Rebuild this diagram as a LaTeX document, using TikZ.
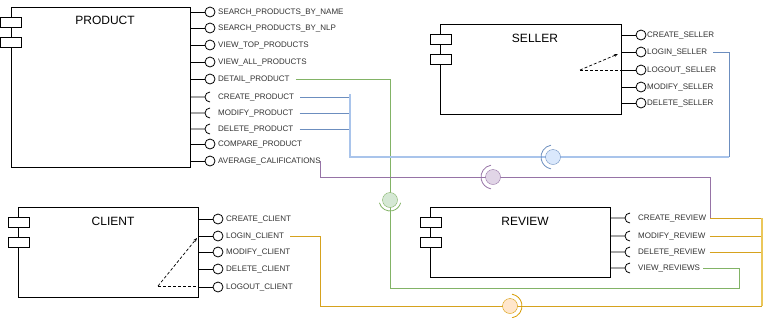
\documentclass[tikz,border=0pt]{standalone}
\usepackage{fontspec}
\setmainfont{Liberation Sans}
\usetikzlibrary{arrows.meta}

\definecolor{txtgray}{HTML}{333333}
\definecolor{glink}{HTML}{82B366}
\definecolor{gfill}{HTML}{D5E8D4}
\definecolor{blink}{HTML}{6C8EBF}
\definecolor{btrunk}{HTML}{A9C4EB}
\definecolor{bfill}{HTML}{DAE8FC}
\definecolor{plink}{HTML}{9673A6}
\definecolor{pfill}{HTML}{E1D5E7}
\definecolor{ylink}{HTML}{D6A21E}
\definecolor{ytrunk}{HTML}{EBC75A}
\definecolor{yfill}{HTML}{FFE6CC}
\definecolor{ydraw}{HTML}{D79B00}

\begin{document}
\begin{tikzpicture}[x=1pt,y=-1pt,
    comp/.style={draw,line width=0.8pt,anchor=north west,inner sep=0pt},
    tab/.style={draw,fill=white,line width=0.8pt,anchor=north west,inner sep=0pt,
        minimum width=21pt,minimum height=10pt},
    title/.style={font=\fontsize{12}{14}\selectfont},
    iface/.style={font=\fontsize{8}{9}\selectfont,text=txtgray,anchor=west,
        inner sep=0pt,text height=5.7pt,text depth=0pt},
    lolli/.style={circle,draw,line width=0.8pt,fill=white,minimum size=10pt,inner sep=0pt},
    stub/.style={line width=0.8pt},
    ball/.style={circle,draw,minimum size=15pt,inner sep=0pt},
    dashlink/.style={dash pattern=on 3pt off 2pt,line width=0.7pt}]
    \fill[white] (0,0) rectangle (766,317);
    \useasboundingbox (0,0) rectangle (766,317);

    % components
    \node[comp,minimum width=179pt,minimum height=160pt] (product) at (11,7) {};
    \node[tab] (producttabA) at (0,17) {};
    \node[tab] (producttabB) at (0,37) {};
    \node[title] (producttitle) at (105,20) {PRODUCT};

    \node[comp,minimum width=181pt,minimum height=90pt] (seller) at (440,24) {};
    \node[tab] (sellertabA) at (430,34) {};
    \node[tab] (sellertabB) at (430,54) {};
    \node[title] (sellertitle) at (535,38) {SELLER};

    \node[comp,minimum width=180pt,minimum height=90pt] (client) at (18,207) {};
    \node[tab] (clienttabA) at (8,217) {};
    \node[tab] (clienttabB) at (8,237) {};
    \node[title] (clienttitle) at (113,221) {CLIENT};

    \node[comp,minimum width=180pt,minimum height=70pt] (review) at (430,207) {};
    \node[tab] (reviewtabA) at (420,217) {};
    \node[tab] (reviewtabB) at (420,237) {};
    \node[title] (reviewtitle) at (525,221) {REVIEW};

    % provided interfaces
    \foreach \i/\y/\txt in {1/12/SEARCH\_PRODUCTS\_BY\_NAME, 2/28/SEARCH\_PRODUCTS\_BY\_NLP,
        3/45/VIEW\_TOP\_PRODUCTS, 4/62/VIEW\_ALL\_PRODUCTS, 5/79/DETAIL\_PRODUCT,
        9/144/COMPARE\_PRODUCT, 10/161/AVERAGE\_CALIFICATIONS}{
        \node[lolli] (pb\i) at (210,\y) {};
        \draw[stub] (pb\i.west -| product.east) -- (pb\i.west);
        \node[iface] (p\i) at (218,\y) {\txt};
    }
    \foreach \i/\y/\txt in {1/35/CREATE\_SELLER, 2/52/LOGIN\_SELLER, 3/70/LOGOUT\_SELLER,
        4/87/MODIFY\_SELLER, 5/103/DELETE\_SELLER}{
        \node[lolli] (sb\i) at (641,\y) {};
        \draw[stub] (sb\i.west -| seller.east) -- (sb\i.west);
        \node[iface] (s\i) at (647,\y) {\txt};
    }
    \foreach \i/\y/\txt in {1/219/CREATE\_CLIENT, 2/236/LOGIN\_CLIENT, 3/252/MODIFY\_CLIENT,
        4/269/DELETE\_CLIENT, 5/287/LOGOUT\_CLIENT}{
        \node[lolli] (cb\i) at (218,\y) {};
        \draw[stub] (cb\i.west -| client.east) -- (cb\i.west);
        \node[iface] (c\i) at (226,\y) {\txt};
    }

    % required interfaces
    \foreach \i/\y/\txt in {6/97/CREATE\_PRODUCT, 7/113/MODIFY\_PRODUCT, 8/129/DELETE\_PRODUCT}{
        \coordinate (ps\i) at (205,\y);
        \draw[stub] (ps\i -| product.east) -- (ps\i)
            arc[start angle=180,end angle=90,radius=5pt]
            (ps\i) arc[start angle=180,end angle=270,radius=5pt];
        \node[iface] (p\i) at (218,\y) {\txt};
    }
    \foreach \i/\y/\txt in {1/218/CREATE\_REVIEW, 2/236/MODIFY\_REVIEW, 3/252/DELETE\_REVIEW,
        4/268/VIEW\_REVIEWS}{
        \coordinate (rs\i) at (625,\y);
        \draw[stub] (rs\i -| review.east) -- (rs\i)
            arc[start angle=180,end angle=90,radius=5pt]
            (rs\i) arc[start angle=180,end angle=270,radius=5pt];
        \node[iface] (r\i) at (638,\y) {\txt};
    }

    % login / logout dependencies
    \coordinate (sdash) at (580,70);
    \coordinate (sarrow) at (618,54);
    \draw[dashlink] (sdash) -- (sdash -| seller.east);
    \draw[dashlink,-{Stealth[length=4pt,width=3pt]}] (sdash) -- (sarrow);
    \coordinate (cdash) at (158,286);
    \coordinate (carrow) at (197,238);
    \draw[dashlink] (cdash) -- (cdash -| client.east);
    \draw[dashlink,-{Stealth[length=4pt,width=3pt]}] (cdash) -- (carrow);

    % detail product -> view reviews
    \coordinate (gdown) at (390,288);
    \coordinate (gright) at (739,268);
    \draw[glink,line width=0.8pt] ([xshift=6pt]p5.east) -| (gdown) -| (gright) -- ([xshift=3pt]r4.east);
    \node[ball,draw=glink,fill=gfill] (bdetail) at (390,200) {};
    \draw[glink,line width=0.8pt] ([shift={(195:11pt)}]bdetail.center) arc[start angle=195,end angle=345,radius=11pt];

    % product management -> login seller
    \coordinate (btop) at (350,94);
    \coordinate (bbend) at (350,157);
    \coordinate (bfoot) at (729,157);
    \foreach \i in {6,7,8}
        \draw[blink,line width=0.8pt] ([xshift=6pt]p\i.east) -- (p\i.east -| btop);
    \draw[btrunk,line width=1.6pt] (btop) -- (bbend) -- (bfoot);
    \draw[blink,line width=0.8pt] (bfoot) |- ([xshift=6pt]s2.east);
    \node[ball,draw=blink,fill=bfill] (bseller) at (553,157) {};
    \draw[blink,line width=0.8pt] ([shift={(100:12pt)}]bseller.center) arc[start angle=100,end angle=260,radius=12pt];

    % average califications -> create review
    \coordinate (pdrop) at (320,177);
    \draw[plink,line width=0.8pt] (p10.east) -| (pdrop) -| ([xshift=4pt]r1.east);
    \node[ball,draw=plink,fill=pfill] (baverage) at (493,177) {};
    \draw[plink,line width=0.8pt] ([shift={(100:12pt)}]baverage.center) arc[start angle=100,end angle=260,radius=12pt];

    % review management -> login client
    \coordinate (ydrop) at (320,306);
    \coordinate (ybot) at (762,306);
    \coordinate (ytop) at (762,218);
    \draw[ylink,line width=0.8pt] ([xshift=6pt]c2.east) -| (ydrop) -- (ybot);
    \foreach \i in {1,2,3}
        \draw[ylink,line width=0.8pt] ([xshift=4pt]r\i.east) -- (r\i.east -| ytop);
    \draw[ytrunk,line width=1.6pt] (ytop) -- (ybot);
    \node[ball,draw=ydraw,fill=yfill] (bclient) at (510,306) {};
    \draw[ydraw,line width=0.8pt] ([shift={(-80:12pt)}]bclient.center) arc[start angle=-80,end angle=80,radius=12pt];
\end{tikzpicture}
\end{document}
